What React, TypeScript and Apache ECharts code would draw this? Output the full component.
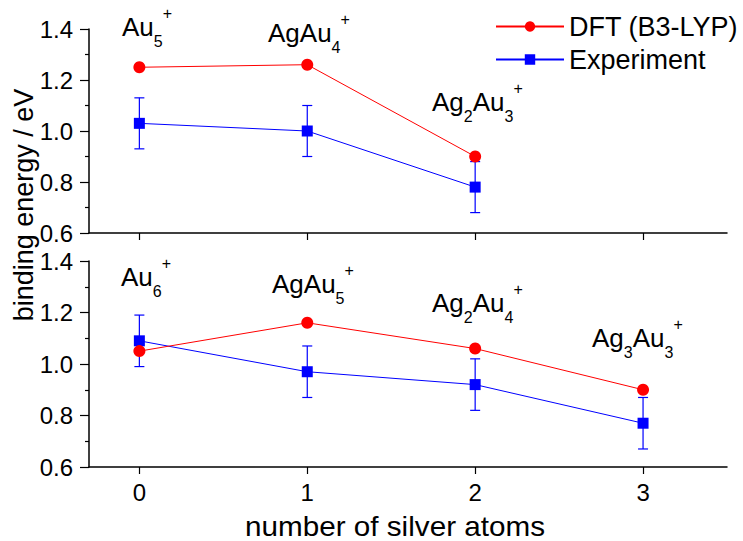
import React, { useEffect, useRef } from "react";
import * as echarts from "echarts";

// ---- data ----
const nAgTop = [0, 1, 2];
const dftTop = [1.25, 1.26, 0.9];
const expTop = [1.03, 1.0, 0.78];
const errTop = [0.1, 0.1, 0.1];

const nAgBottom = [0, 1, 2, 3];
const dftBottom = [1.05, 1.16, 1.06, 0.9];
const expBottom = [1.09, 0.97, 0.92, 0.77];
const errBottom = [0.1, 0.1, 0.1, 0.1];

const xTicks = [0, 1, 2, 3];
const seriesNames = ["DFT (B3-LYP)", "Experiment"];

// cluster labels: rich-text strings (m = main, s = subscript, p = superscript)
const topLabels = ["{m|Au}{s|5}{p|+}", "{m|AgAu}{s|4}{p|+}", "{m|Ag}{s|2}{m|Au}{s|3}{p|+}"];
const bottomLabels = [
  "{m|Au}{s|6}{p|+}",
  "{m|AgAu}{s|5}{p|+}",
  "{m|Ag}{s|2}{m|Au}{s|4}{p|+}",
  "{m|Ag}{s|3}{m|Au}{s|3}{p|+}",
];

const FONT = "'Liberation Sans', Arial, Helvetica, sans-serif";
const RED = "#ff0000";
const BLUE = "#0000ff";

export default function App() {
  const ref = useRef<HTMLDivElement>(null);

  useEffect(() => {
    if (!ref.current) return;
    const chart = echarts.init(ref.current, null, { renderer: "svg" });

    const rich = {
      m: { fontSize: 26, lineHeight: 44, verticalAlign: "middle", fontFamily: FONT, color: "#000" },
      s: { fontSize: 16, lineHeight: 10, verticalAlign: "bottom", fontFamily: FONT, color: "#000" },
      p: { fontSize: 16, lineHeight: 26, verticalAlign: "top", fontFamily: FONT, color: "#000" },
    };

    const labelPos = [
      [122, 5],
      [268, 11],
      [432, 80],
      [121, 255],
      [272, 262],
      [432, 281],
      [592, 316],
    ];
    const allLabels = [...topLabels, ...bottomLabels];

    const axisLineStyle = { color: "#000", width: 1.5 };

    const yAxisCommon = (gridIndex: number) => ({
      type: "value",
      gridIndex,
      min: 0.6,
      max: 1.4,
      interval: 0.2,
      splitLine: { show: false },
      axisLine: { show: true, onZero: false, lineStyle: axisLineStyle },
      axisTick: { show: true, length: 9, lineStyle: { color: "#000", width: 1.2 } },
      minorTick: { show: true, splitNumber: 2, length: 4, lineStyle: { color: "#000", width: 1.2 } },
      axisLabel: {
        fontSize: 24,
        fontFamily: FONT,
        color: "#000",
        margin: 16,
        formatter: (v: number) => v.toFixed(1),
      },
    });

    const xAxisCommon = (gridIndex: number, showLabels: boolean) => ({
      type: "value",
      gridIndex,
      min: -0.3,
      max: 3.5,
      splitLine: { show: false },
      axisLine: { show: true, onZero: false, lineStyle: axisLineStyle },
      axisTick: {
        show: true,
        length: 7,
        customValues: xTicks,
        lineStyle: { color: "#000", width: 1.2 },
      },
      axisLabel: {
        show: showLabels,
        customValues: xTicks,
        fontSize: 24,
        fontFamily: FONT,
        color: "#000",
        margin: 13,
      },
    });

    const errorBar = (xs: number[], ys: number[], es: number[], idx: number) => ({
      type: "custom",
      xAxisIndex: idx,
      yAxisIndex: idx,
      z: 1,
      silent: true,
      data: xs.map((x, i) => [x, ys[i], es[i]]),
      encode: { x: 0, y: 1 },
      renderItem: (_params: any, api: any) => {
        const x = api.value(0);
        const y = api.value(1);
        const e = api.value(2);
        const top = api.coord([x, y + e]);
        const bot = api.coord([x, y - e]);
        const hw = 5;
        const style = { stroke: BLUE, lineWidth: 1.2 };
        return {
          type: "group",
          children: [
            { type: "line", shape: { x1: top[0], y1: top[1], x2: bot[0], y2: bot[1] }, style },
            { type: "line", shape: { x1: top[0] - hw, y1: top[1], x2: top[0] + hw, y2: top[1] }, style },
            { type: "line", shape: { x1: bot[0] - hw, y1: bot[1], x2: bot[0] + hw, y2: bot[1] }, style },
          ],
        };
      },
    });

    const lineSeries = (
      name: string,
      xs: number[],
      ys: number[],
      idx: number,
      color: string,
      symbol: string,
      size: number,
      z: number
    ) => ({
      type: "line",
      name,
      xAxisIndex: idx,
      yAxisIndex: idx,
      z,
      data: xs.map((x, i) => [x, ys[i]]),
      symbol,
      symbolSize: size,
      showAllSymbol: true,
      lineStyle: { color, width: 1 },
      itemStyle: { color },
      emphasis: { disabled: true },
    });

    const option: any = {
      animation: false,
      backgroundColor: "#ffffff",
      textStyle: { fontFamily: FONT },
      grid: [
        { left: 89, top: 29, width: 638, height: 204 },
        { left: 89, top: 261, width: 638, height: 206 },
      ],
      xAxis: [xAxisCommon(0, false), xAxisCommon(1, true)],
      yAxis: [yAxisCommon(0), yAxisCommon(1)],
      legend: {
        data: seriesNames,
        orient: "vertical",
        left: 495,
        top: 13,
        padding: 0,
        itemWidth: 68,
        itemHeight: 13,
        itemGap: 6,
        textStyle: { fontSize: 27, lineHeight: 27, fontFamily: FONT, color: "#000" },
        selectedMode: false,
      },
      series: [
        errorBar(nAgTop, expTop, errTop, 0),
        errorBar(nAgBottom, expBottom, errBottom, 1),
        lineSeries(seriesNames[1], nAgTop, expTop, 0, BLUE, "rect", 11, 2),
        lineSeries(seriesNames[1], nAgBottom, expBottom, 1, BLUE, "rect", 11, 2),
        lineSeries(seriesNames[0], nAgTop, dftTop, 0, RED, "circle", 12, 3),
        lineSeries(seriesNames[0], nAgBottom, dftBottom, 1, RED, "circle", 12, 3),
      ],
      graphic: [
        ...allLabels.map((t, i) => ({
          type: "text",
          x: labelPos[i][0],
          y: labelPos[i][1],
          style: { text: t, rich, align: "left", verticalAlign: "top", fill: "#000" },
        })),
        {
          type: "text",
          x: 24,
          y: 205,
          rotation: Math.PI / 2,
          style: {
            text: "binding energy / eV",
            font: `27px ${FONT}`,
            align: "center",
            verticalAlign: "middle",
            fill: "#000",
          },
        },
        {
          type: "text",
          x: 395,
          y: 526,
          scaleX: 1.06,
          style: {
            text: "number of silver atoms",
            font: `28px ${FONT}`,
            align: "center",
            verticalAlign: "middle",
            fill: "#000",
          },
        },
      ],
    };

    chart.setOption(option);
    return () => chart.dispose();
  }, []);

  return (
    <div
      ref={ref}
      style={{ position: "fixed", left: 0, top: 0, width: 743, height: 541, background: "#fff" }}
    />
  );
}
